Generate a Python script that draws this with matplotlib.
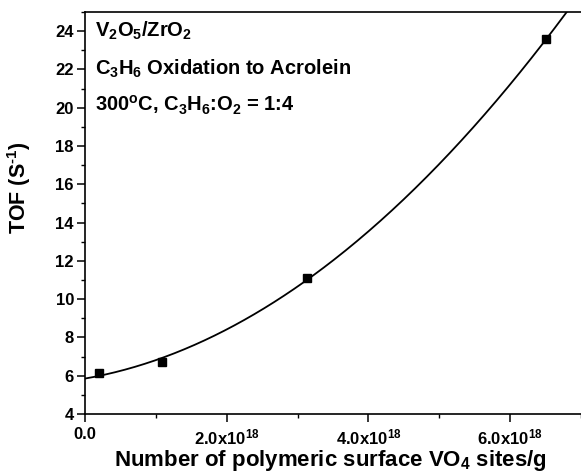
import matplotlib
matplotlib.use("Agg")
import matplotlib.pyplot as plt
import numpy as np
from matplotlib.ticker import MultipleLocator, FixedLocator

plt.rcParams["font.family"] = ["Liberation Sans", "DejaVu Sans"]
plt.rcParams["font.weight"] = "bold"
plt.rcParams["mathtext.fontset"] = "custom"
plt.rcParams["mathtext.rm"] = "Liberation Sans:bold"
plt.rcParams["mathtext.bf"] = "Liberation Sans:bold"
plt.rcParams["mathtext.default"] = "bf"

# polymeric VO4 sites/g vs TOF
sites = [0.20e18, 1.08e18, 3.13e18, 6.51e18]
tof = [6.12, 6.71, 11.1, 23.57]
x_ticks = [0.0, 2.0e18, 4.0e18, 6.0e18]
x_ticklabels = ["0.0", r"2.0x10$^{18}$", r"4.0x10$^{18}$", r"6.0x10$^{18}$"]
y_ticks = [4, 6, 8, 10, 12, 14, 16, 18, 20, 22, 24]

fig = plt.figure(figsize=(5.81, 4.75), dpi=100)
ax = fig.add_axes([0.1463, 0.1284, 0.8537, 0.8463])

# second-order polynomial fit through the measured points
coef = np.polyfit(sites, tof, 2)
xs = np.linspace(0, 7.0e18, 300)
ax.plot(xs, np.polyval(coef, xs), color="black", lw=1.3)
ax.plot(sites, tof, "s", color="black", ms=5.5)

ax.set_xlim(0, 7.0e18)
ax.set_ylim(4, 25)
ax.xaxis.set_major_locator(FixedLocator(x_ticks))
ax.set_xticklabels(x_ticklabels)
ax.xaxis.set_minor_locator(MultipleLocator(1e18))
ax.set_yticks(y_ticks)
ax.yaxis.set_minor_locator(MultipleLocator(1))

ax.tick_params(which="major", direction="out", length=6, width=1.1, labelsize=12)
ax.tick_params(which="minor", direction="out", length=3, width=1.0)
ax.tick_params(axis="y", pad=2)
for lbl in ax.get_xticklabels() + ax.get_yticklabels():
    lbl.set_fontweight("bold")
for side in ["left", "bottom", "top"]:
    ax.spines[side].set_linewidth(1.2)
ax.spines["right"].set_visible(False)

ax.set_xlabel(r"Number of polymeric surface VO$_4$ sites/g", fontsize=16, fontweight="bold")
ax.set_ylabel(r"TOF (S$^{\text{-}1}$)", fontsize=15.5, fontweight="bold")
ax.yaxis.set_label_coords(-0.104, 0.562)
ax.xaxis.set_label_coords(0.494, -0.085)

ax.text(0.02, 0.9386, r"V$_2$O$_5$/ZrO$_2$", transform=ax.transAxes,
        fontsize=14.5, fontweight="bold", va="baseline")
ax.text(0.02, 0.8433, r"C$_3$H$_6$ Oxidation to Acrolein", transform=ax.transAxes,
        fontsize=14.5, fontweight="bold", va="baseline")
ax.text(0.02, 0.752, r"300$^o$C, C$_3$H$_6$:O$_2$ = 1:4", transform=ax.transAxes,
        fontsize=14.5, fontweight="bold", va="baseline")

fig.savefig("out.png", dpi=100)
